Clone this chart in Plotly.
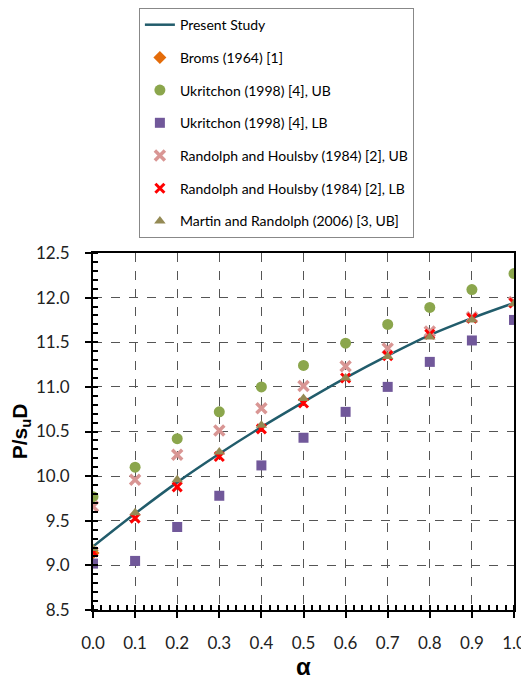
import plotly.graph_objects as go

alpha = [0.0, 0.1, 0.2, 0.3, 0.4, 0.5, 0.6, 0.7, 0.8, 0.9, 1.0]
present_study = [9.21, 9.58, 9.93, 10.25, 10.55, 10.83, 11.10, 11.35, 11.58, 11.77, 11.94]
broms_alpha = [0.0]
broms = [9.14]
ukritchon_ub = [9.77, 10.10, 10.42, 10.72, 11.00, 11.24, 11.49, 11.70, 11.89, 12.09, 12.27]
ukritchon_lb = [9.02, 9.05, 9.43, 9.78, 10.12, 10.43, 10.72, 11.00, 11.28, 11.52, 11.75]
randolph_ub = [9.66, 9.96, 10.24, 10.51, 10.76, 11.01, 11.23, 11.43, 11.62, 11.78, 11.95]
randolph_lb = [9.15, 9.53, 9.88, 10.22, 10.53, 10.82, 11.10, 11.35, 11.59, 11.77, 11.94]
martin_ub = [9.19, 9.59, 9.96, 10.27, 10.57, 10.87, 11.10, 11.34, 11.56, 11.75, 11.93]

x_ticks = [0.0, 0.1, 0.2, 0.3, 0.4, 0.5, 0.6, 0.7, 0.8, 0.9, 1.0]
y_ticks = [8.5, 9.0, 9.5, 10.0, 10.5, 11.0, 11.5, 12.0, 12.5]

fig = go.Figure()
fig.add_trace(go.Scatter(x=alpha, y=present_study, mode="lines", name="Present Study",
                         line=dict(color="#215C6B", width=2.5, shape="spline"), legendgroup="a"))
fig.add_trace(go.Scatter(x=broms_alpha, y=broms, mode="markers", name="Broms (1964) [1]",
                         marker=dict(symbol="diamond", color="#E46C0A", size=10), legendgroup="b"))
fig.add_trace(go.Scatter(x=alpha, y=ukritchon_ub, mode="markers", name="Ukritchon (1998) [4], UB",
                         marker=dict(symbol="circle", color="#8BA64C", size=11), legendgroup="c"))
fig.add_trace(go.Scatter(x=alpha, y=ukritchon_lb, mode="markers", name="Ukritchon (1998) [4], LB",
                         marker=dict(symbol="square", color="#71589A", size=10), legendgroup="d"))
fig.add_trace(go.Scatter(x=alpha, y=randolph_ub, mode="markers", name="Randolph and Houlsby (1984) [2], UB",
                         marker=dict(symbol="x-thin", color="#D99694", size=10,
                                     line=dict(color="#D99694", width=3.5)), legendgroup="e"))
fig.add_trace(go.Scatter(x=alpha, y=randolph_lb, mode="markers", name="Randolph and Houlsby (1984) [2], LB",
                         marker=dict(symbol="x-thin", color="#FF0000", size=9,
                                     line=dict(color="#FF0000", width=3)), legendgroup="f"))
fig.add_trace(go.Scatter(x=alpha, y=martin_ub, mode="markers", name="Martin and Randolph (2006) [3, UB]",
                         marker=dict(symbol="triangle-up", color="#948A54", size=10), legendgroup="g"))

axis_common = dict(
    showline=True, linecolor="black", linewidth=2, mirror=True,
    showgrid=True, gridcolor="#555555", griddash="dash", gridwidth=1,
    ticks="outside", ticklen=6, tickwidth=1.5, tickcolor="black",
    tickfont=dict(family="Lato, Open Sans, sans-serif", size=17, color="#222222"),
    zeroline=False, automargin=False,
)

fig.update_xaxes(range=[0, 1.0], tickvals=x_ticks, tickformat=".1f", ticklabelstandoff=11,
                 minor=dict(dtick=0.02, ticks="inside", ticklen=5, tickcolor="black", showgrid=False),
                 title=dict(text="<b>α</b>", font=dict(family="Liberation Sans, Arial", size=24, color="black"),
                            standoff=1),
                 **axis_common)
fig.update_yaxes(range=[8.5, 12.5], tickvals=y_ticks, tickformat=".1f", ticklabelstandoff=12,
                 minor=dict(dtick=0.1, ticks="inside", ticklen=5, tickcolor="black", showgrid=False),
                 title=dict(text="<b>P/s<sub>u</sub>D</b>", font=dict(family="Liberation Sans, Arial", size=21, color="black"),
                            standoff=4),
                 **axis_common)

fig.update_layout(
    width=521, height=673,
    margin=dict(l=85, r=15, t=245, b=71, autoexpand=False),
    plot_bgcolor="white", paper_bgcolor="white",
    legend=dict(x=0.109, y=1.686, xanchor="left", yanchor="top",
                bordercolor="#888888", borderwidth=1, bgcolor="white",
                font=dict(family="Lato, Open Sans, sans-serif", size=14, color="black"),
                tracegroupgap=11.5, itemwidth=30),
    showlegend=True,
)

fig.write_html("out.html")
